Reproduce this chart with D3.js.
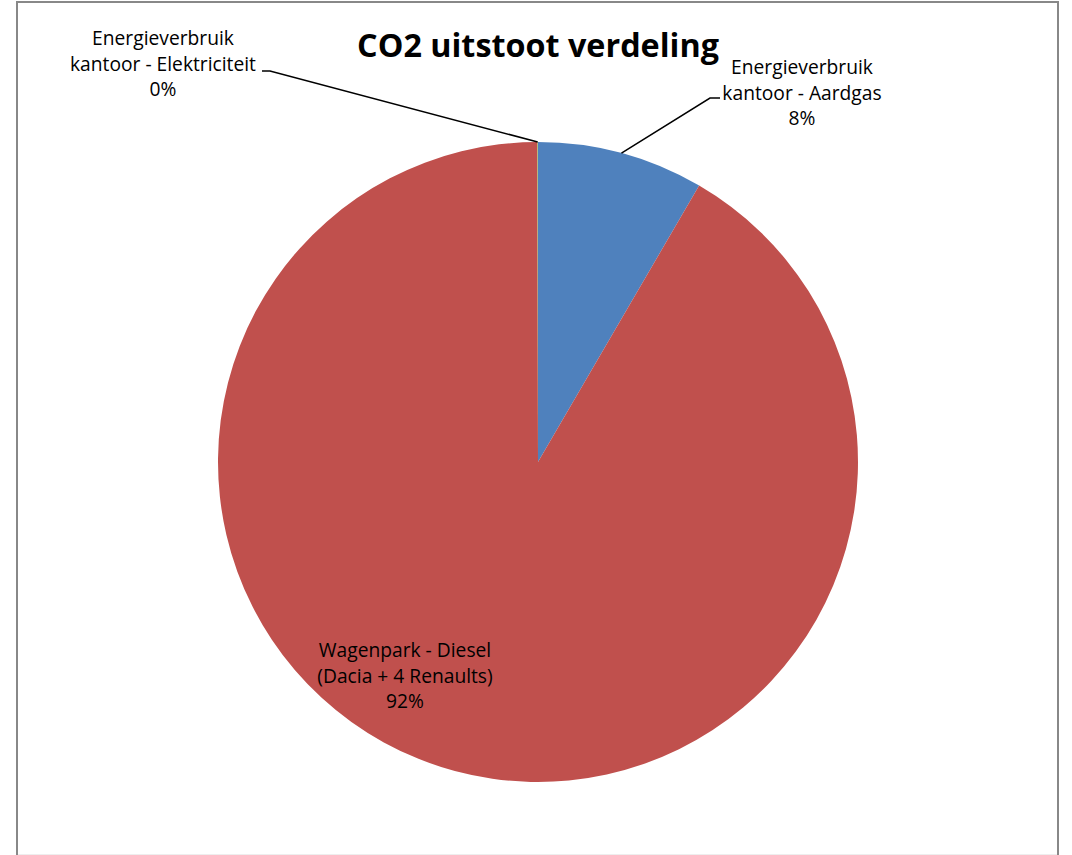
<!DOCTYPE html>
<html><head><meta charset="utf-8">
<script src="https://cdn.jsdelivr.net/npm/d3@7"></script>
<style>body{margin:0;background:#fff;} svg{display:block;}</style>
</head><body>
<svg id="c" width="1072" height="855"></svg>
<script>
const categories = ["Energieverbruik kantoor - Aardgas", "Wagenpark - Diesel (Dacia + 4 Renaults)", "Energieverbruik kantoor - Elektriciteit"];
const values = [8.4, 91.57, 0.03];
const labelLines = [["Energieverbruik","kantoor - Aardgas","8%"],["Wagenpark - Diesel","(Dacia + 4 Renaults)","92%"],["Energieverbruik","kantoor - Elektriciteit","0%"]];
const colors = ["#4F81BD","#C0504D","#9BBB59"];
const title = "CO2 uitstoot verdeling";

const svg = d3.select("#c");
const FONT = "'Open Sans', 'Noto Sans', sans-serif";
// frame
svg.append("rect").attr("x",17).attr("y",2).attr("width",1041).attr("height",860)
  .attr("fill","#fff").attr("stroke","#888").attr("stroke-width",2);
svg.append("line").attr("x1",18).attr("x2",1057).attr("y1",854.5).attr("y2",854.5)
  .attr("stroke","#eee").attr("stroke-width",1);

const cx = 538, cy = 462, R = 320;
const pie = d3.pie().sort(null).value(d=>d)(values);
const arc = d3.arc().innerRadius(0).outerRadius(R);
const g = svg.append("g").attr("transform",`translate(${cx},${cy})`);
g.selectAll("path").data(pie).join("path").attr("d",arc).attr("fill",(d,i)=>colors[i]);

function fitText(sel, target){
  const w = sel.node().getComputedTextLength();
  const fs = parseFloat(sel.attr("font-size"));
  sel.attr("font-size", fs*target/w);
}
const t = svg.append("text").attr("x",538).attr("y",57).attr("text-anchor","middle")
  .attr("font-family",FONT).attr("font-weight","bold").attr("font-size",30).attr("fill","#000").text(title);
fitText(t, 362);

// label positions (center x, first baseline)
const labelPos = [[802,74],[405,657],[163,45]];
let fsLabel = 17;
{
  const tmp = svg.append("text").attr("font-family",FONT).attr("font-size",17).text(labelLines[2][1]);
  fsLabel = 17*186/tmp.node().getComputedTextLength();
  tmp.remove();
}
labelLines.forEach((lines,i)=>{
  const txt = svg.append("text").attr("text-anchor","middle").attr("font-family",FONT)
    .attr("font-size",fsLabel).attr("fill","#000");
  lines.forEach((l,j)=>{
    txt.append("tspan").attr("x",labelPos[i][0]).attr("y",labelPos[i][1]+j*25.5).text(l);
  });
});

// leader lines
function pt(d, r){ const a = (d.startAngle+d.endAngle)/2; return [cx+Math.sin(a)*r, cy-Math.cos(a)*r]; }
const pA = pt(pie[0], R);
svg.append("polyline").attr("points",[pA,[710,98],[720,98]].map(p=>p.join(",")).join(" "))
  .attr("fill","none").attr("stroke","#000").attr("stroke-width",1.5);
const pE = pt(pie[2], R);
svg.append("polyline").attr("points",[pE,[270,71],[262,71]].map(p=>p.join(",")).join(" "))
  .attr("fill","none").attr("stroke","#000").attr("stroke-width",1.5);
</script>
</body></html>
